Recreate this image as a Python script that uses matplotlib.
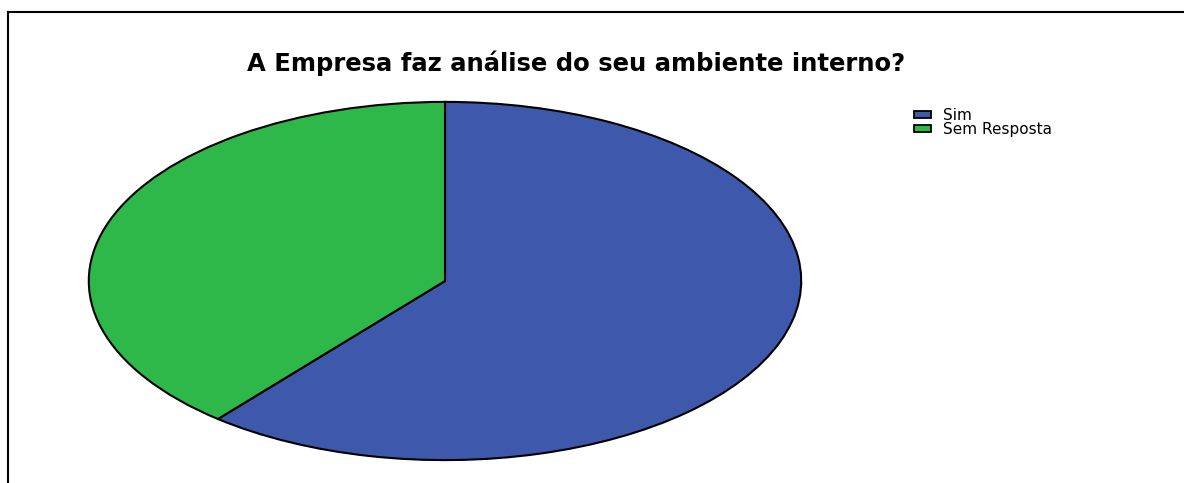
import matplotlib
matplotlib.use("Agg")
import matplotlib.pyplot as plt
from matplotlib.patches import Rectangle
from matplotlib.lines import Line2D

title = "A Empresa faz análise do seu ambiente interno?"
categories = ["Sim", "Sem Resposta"]
values = [61, 39]
colors = ["#3E58AC", "#2EB84A"]

W, H = 1184, 483
fig = plt.figure(figsize=(W / 100, H / 100), dpi=100)
fig.patch.set_facecolor("white")

# pie axes stretched to an ellipse
ax = fig.add_axes([87 / W, 22 / H, 716 / W, 360 / H])
ax.pie(values, colors=colors, startangle=90, counterclock=False,
       wedgeprops=dict(edgecolor="black", linewidth=1.5))
ax.set_aspect("auto")
ax.set_xlim(-1.005, 1.005)
ax.set_ylim(-1.005, 1.005)
ax.axis("off")

# frame lines (left and top)
fig.add_artist(Line2D([8 / W, 8 / W], [0, (H - 12) / H], transform=fig.transFigure,
                      color="black", linewidth=1.5))
fig.add_artist(Line2D([8 / W, 1], [(H - 12) / H, (H - 12) / H], transform=fig.transFigure,
                      color="black", linewidth=1.5))

fig.text(576 / W, (H - 63) / H, title, ha="center", va="center",
         fontsize=17.5, fontweight="bold", family=["DejaVu Sans"])

# legend drawn manually
for i, (cat, c) in enumerate(zip(categories, colors)):
    yc = H - (114 + 14 * i)
    fig.add_artist(Rectangle((914 / W, (yc - 3.5) / H), 17 / W, 7 / H,
                             transform=fig.transFigure, facecolor=c,
                             edgecolor="black", linewidth=1.3))
    fig.text(943 / W, yc / H, cat, ha="left", va="center_baseline",
             fontsize=11, family=["DejaVu Sans"])

fig.savefig("out.png", dpi=100, facecolor="white")
